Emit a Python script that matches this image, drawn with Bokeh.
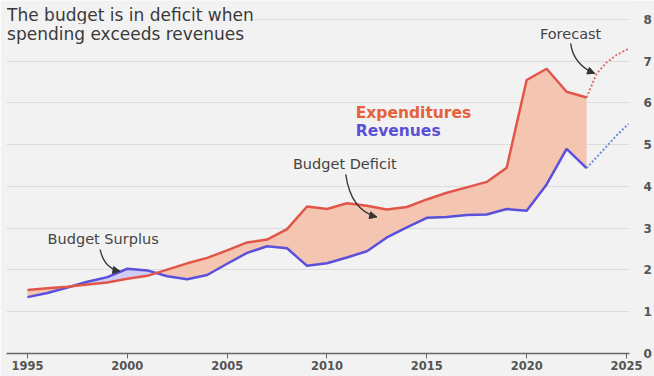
import numpy as np
from bokeh.plotting import figure
from bokeh.models import Label, Arrow, NormalHead, FixedTicker
from bokeh.embed import file_html
from bokeh.resources import INLINE

# ---- data (trillions of dollars) ----
years = list(range(1995, 2024))
expenditures = [1.52, 1.56, 1.60, 1.65, 1.70, 1.79, 1.86, 2.01, 2.16, 2.29,
                2.47, 2.66, 2.73, 2.98, 3.52, 3.46, 3.60, 3.54, 3.45, 3.51,
                3.69, 3.85, 3.98, 4.11, 4.45, 6.55, 6.82, 6.27, 6.13]
revenues = [1.35, 1.45, 1.58, 1.72, 1.83, 2.03, 1.99, 1.85, 1.78, 1.88,
            2.15, 2.41, 2.57, 2.52, 2.10, 2.16, 2.30, 2.45, 2.78, 3.02,
            3.25, 3.27, 3.32, 3.33, 3.46, 3.42, 4.05, 4.90, 4.44]
forecast_years = [2023, 2023.5, 2024, 2024.5, 2025.1]
forecast_exp = [6.13, 6.70, 6.97, 7.15, 7.30]
forecast_rev = [4.44, 4.70, 4.96, 5.22, 5.50]
x_ticks = [1995, 2000, 2005, 2010, 2015, 2020, 2025]
y_ticks = [0, 1, 2, 3, 4, 5, 6, 7, 8]

BG = "#f2f2f2"
RED = "#e2564a"
BLUE = "#5a50dc"
TXT = "#3a3a3a"
FONT = "DejaVu Sans"

p = figure(width=654, height=376, x_range=(1993.95, 2025.15), y_range=(0, 8.455),
           output_backend="svg", toolbar_location=None,
           min_border_left=6, min_border_right=22, min_border_top=0, min_border_bottom=23,
           background_fill_color=BG, border_fill_color=BG, outline_line_color=None,
           y_axis_location="right")

# axes
xa = p.xaxis[0]
xa.ticker = FixedTicker(ticks=x_ticks)
xa.axis_line_color = "#666666"
xa.axis_line_width = 1.3
xa.major_tick_line_color = "#666666"
xa.major_tick_out = 5
xa.major_tick_in = 0
xa.minor_tick_line_color = None
xa.major_label_standoff = 2
xa.major_label_text_font = FONT
xa.major_label_text_font_size = "11.5px"
xa.major_label_text_font_style = "bold"
xa.major_label_text_color = "#555555"

ya = p.yaxis[0]
ya.ticker = FixedTicker(ticks=y_ticks)
ya.axis_line_color = None
ya.major_tick_line_color = None
ya.minor_tick_line_color = None
ya.major_label_standoff = 8
ya.major_label_text_font = FONT
ya.major_label_text_font_size = "12px"
ya.major_label_text_font_style = "bold"
ya.major_label_text_color = "#555555"
ya.major_label_text_baseline = "alphabetic"

p.xgrid.grid_line_color = None
p.ygrid.ticker = FixedTicker(ticks=y_ticks)
p.ygrid.grid_line_color = "#dcdcdc"
p.ygrid.grid_line_width = 1

# ---- fills with crossings ----
x = np.array(years, dtype=float)
a = np.array(expenditures)
b = np.array(revenues)
X, A, B = [x[0]], [a[0]], [b[0]]
for i in range(1, len(x)):
    d0 = a[i - 1] - b[i - 1]
    d1 = a[i] - b[i]
    if d0 * d1 < 0:
        t = d0 / (d0 - d1)
        xc = x[i - 1] + t * (x[i] - x[i - 1])
        yc = a[i - 1] + t * (a[i] - a[i - 1])
        X.append(xc); A.append(yc); B.append(yc)
    X.append(x[i]); A.append(a[i]); B.append(b[i])
X, A, B = np.array(X), np.array(A), np.array(B)
lo = np.minimum(A, B)
hi = np.maximum(A, B)
p.varea(x=X, y1=lo, y2=A, fill_color="#f4c5b1", fill_alpha=1.0)
p.varea(x=X, y1=A, y2=hi, fill_color="#cfcdf2", fill_alpha=1.0)

# lines
p.line(years, revenues, line_color=BLUE, line_width=2.5)
p.line(years, expenditures, line_color=RED, line_width=2.5)
p.line(forecast_years, forecast_exp, line_color="#e07070", line_width=2, line_dash="2 2")
p.line(forecast_years, forecast_rev, line_color="#6a8cd6", line_width=2, line_dash="2 2")

# title
for txt, yy in [("The budget is in deficit when", 8.10), ("spending exceeds revenues", 7.66)]:
    p.add_layout(Label(x=1993.98, y=yy, text=txt, text_font=FONT, text_font_size="17px",
                       text_color=TXT, text_baseline="middle", text_align="left",
                       background_fill_color=BG, background_fill_alpha=1.0))

# legend labels
p.add_layout(Label(x=2011.44, y=5.75, text="Expenditures", text_font=FONT, text_font_size="15.5px",
                   text_font_style="bold", text_color="#e6613a", text_baseline="middle"))
p.add_layout(Label(x=2011.44, y=5.32, text="Revenues", text_font=FONT, text_font_size="15.5px",
                   text_font_style="bold", text_color="#5a4fd6", text_baseline="middle"))

# annotations
annots = [("Budget Surplus", 1998.79, 2.75), ("Budget Deficit", 2010.89, 4.55), ("Forecast", 2022.2, 7.66)]
for txt, ax, ay in annots:
    p.add_layout(Label(x=ax, y=ay, text=txt, text_font=FONT, text_font_size="14.5px",
                       text_color="#444444", text_align="center", text_baseline="middle"))

arrows = [  # (x0, y0, cx, cy, x1, y1)
    (1998.64, 2.49, 1998.84, 2.04, 1999.63, 1.97),
    (2010.94, 4.29, 2011.19, 3.43, 2012.49, 3.27),
    (2022.20, 7.43, 2022.35, 6.92, 2023.4, 6.71),
]
for x0, y0, cx, cy, x1, y1 in arrows:
    p.quadratic(x0=[x0], y0=[y0], x1=[x1], y1=[y1], cx=[cx], cy=[cy],
                line_color="#333333", line_width=1.3)
    sx, sy = x1 - 0.15 * (x1 - cx), y1 - 0.15 * (y1 - cy)
    p.add_layout(Arrow(end=NormalHead(size=7, fill_color="#333333", line_color="#333333"),
                       x_start=sx, y_start=sy, x_end=x1, y_end=y1,
                       line_color="#333333", line_width=1.3))

open("out.html", "w").write(file_html(p, INLINE))
